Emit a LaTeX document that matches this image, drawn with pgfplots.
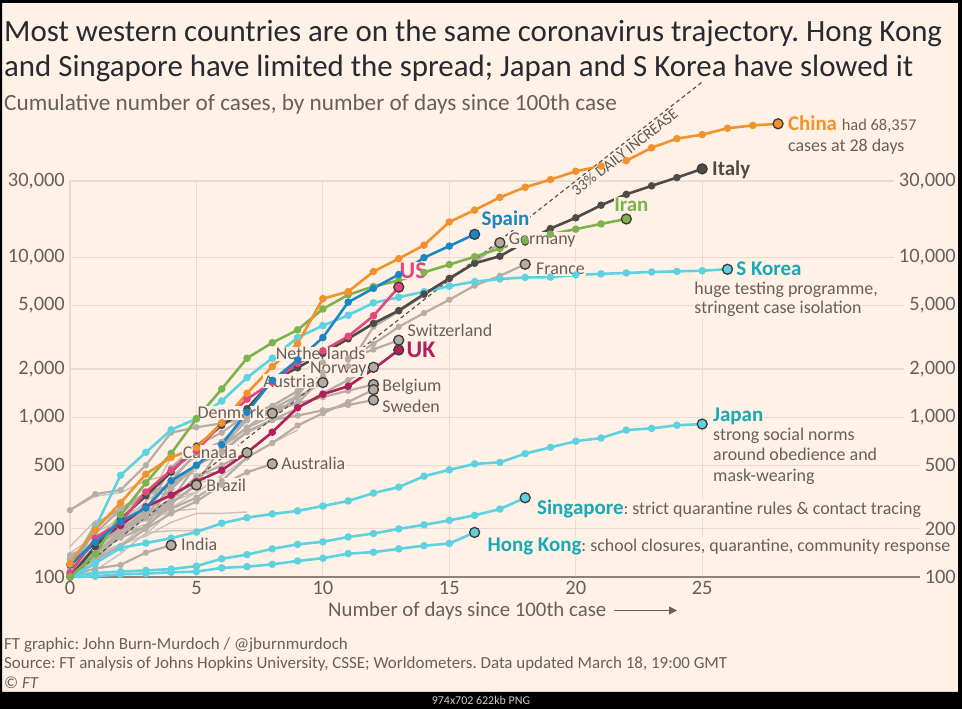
\documentclass[border=0pt]{standalone}
\usepackage{fontspec}
\setmainfont{Carlito}
\usepackage{pgfplots}
\pgfplotsset{compat=1.18}
\usetikzlibrary{arrows.meta}
\frenchspacing

\definecolor{bg}{HTML}{FFF1E5}
\definecolor{gridc}{HTML}{E8DCD1}
\definecolor{basec}{HTML}{8A827C}
\definecolor{txt}{HTML}{66605C}
\definecolor{ink}{HTML}{262A33}
\definecolor{edge}{HTML}{3D3935}
\definecolor{chinac}{HTML}{F2922E}
\definecolor{italyc}{HTML}{4D4A48}
\definecolor{spainc}{HTML}{1B86C6}
\definecolor{iranc}{HTML}{7DB34D}
\definecolor{usc}{HTML}{E5467E}
\definecolor{ukc}{HTML}{B0215B}
\definecolor{cyanc}{HTML}{5CD2E0}
\definecolor{tealc}{HTML}{17A9B6}
\definecolor{grayl}{HTML}{B5ADA6}
\definecolor{grayt}{HTML}{C9C1BA}
\definecolor{graym}{HTML}{B3ABA4}

\newcommand\fs[2]{\fontsize{#1}{#2}\selectfont}

\pgfplotsset{
  cl/.style={color=#1, line width=2.6bp, mark=*, mark size=2.4bp,
    mark options={solid, fill=#1, draw=#1}},
  gl/.style={color=grayl, line width=2.2bp, mark=*, mark size=2bp,
    mark options={solid, fill=grayl, draw=grayl}},
  tl/.style={color=grayt, line width=1.4bp, no marks},
  em/.style={only marks, mark=*, mark size=5bp,
    mark options={fill=#1, draw=edge, line width=1.3bp}},
}
\tikzset{
  lab/.style={inner sep=0.8bp, fill=bg, text=txt, font=\fs{18}{21}},
  blab/.style={inner sep=0.8bp, fill=bg, text=#1, font=\fs{21}{24}\bfseries},
  rlab/.style={anchor=east, font=\fs{20.5}{24}, text=txt, fill=bg,
    inner xsep=5bp, inner ysep=1bp, xshift=11bp},
}

\begin{document}
\begin{tikzpicture}[x=1bp,y=1bp]
\useasboundingbox (0,0) rectangle (962,709);
\fill[bg] (0,0) rectangle (962,709);

% titles
\node[anchor=base west, inner sep=0pt, font=\fs{31}{36}, text=ink] at (4,667)
  {Most western countries are on the same coronavirus trajectory. Hong Kong};
\node[anchor=base west, inner sep=0pt, font=\fs{31}{36}, text=ink] at (4,632)
  {and Singapore have limited the spread; Japan and S Korea have slowed it};
\node[anchor=base west, inner sep=0pt, font=\fs{23.3}{27}, text=txt] at (4,598)
  {Cumulative number of cases, by number of days since 100th case};

\begin{axis}[
  at={(70bp,132bp)}, anchor=south west,
  scale only axis, width=880bp, height=396bp,
  xmin=0, xmax=34.8, ymin=100, ymax=30000,
  ymode=log, clip=false,
  axis line style={draw=none}, tick style={draw=none},
  xtick={0,5,10,15,20,25},
  ytick={100,200,500,1000,2000,5000,10000,30000},
  yticklabels={100,200,500,{1,000},{2,000},{5,000},{10,000},{30,000}},
  grid=major, grid style={gridc, line width=1.2bp},
  /pgf/number format/assume math mode=true,
  xticklabel style={font=\fs{20.5}{24}, text=txt, inner sep=0pt, yshift=-4bp},
  yticklabel style={font=\fs{20.5}{24}, text=txt, inner sep=0pt, xshift=-5bp},
]
% baseline
\draw[basec, line width=1.6bp] (axis cs:0,100) -- (axis cs:34.8,100);

% right-hand tick labels
\node[rlab] at (axis cs:34.8,30000) {30,000};
\node[rlab] at (axis cs:34.8,10000) {10,000};
\node[rlab] at (axis cs:34.8,5000) {5,000};
\node[rlab] at (axis cs:34.8,2000) {2,000};
\node[rlab] at (axis cs:34.8,1000) {1,000};
\node[rlab] at (axis cs:34.8,500) {500};
\node[rlab] at (axis cs:34.8,200) {200};
\node[rlab] at (axis cs:34.8,100) {100};

% other countries, thin grey
\addplot[tl] coordinates {(0,262)(1,320)(2,337)(3,401)(4,439)(5,442)(6,452)};
\addplot[tl] coordinates {(0,129)(1,149)(2,197)(3,238)(4,428)(5,566)(6,673)(7,790)};
\addplot[tl] coordinates {(0,112)(1,169)(2,245)(3,331)(4,448)(5,642)};
\addplot[tl] coordinates {(0,109)(1,143)(2,193)(3,213)(4,298)(5,337)(6,433)};
\addplot[tl] coordinates {(0,116)(1,150)(2,214)(3,298)(4,383)(5,464)};
\addplot[tl] coordinates {(0,117)(1,190)(2,228)(3,331)(4,331)(5,387)(6,418)};
\addplot[tl] coordinates {(0,155)(1,225)(2,244)(3,277)(4,321)(5,336)};
\addplot[tl] coordinates {(0,129)(1,169)(2,223)(3,292)(4,557)};
\addplot[tl] coordinates {(0,117)(1,138)(2,161)(3,180)(4,220)(5,250)(6,250)(7,255)};
\addplot[tl] coordinates {(0,141)(1,181)(2,219)(3,253)(4,275)};
\addplot[tl] coordinates {(0,115)(1,171)(2,205)(3,225)(4,258)(5,267)};
\addplot[tl] coordinates {(0,111)(1,150)(2,177)(3,238)(4,251)};
\addplot[tl] coordinates {(0,123)(1,131)(2,158)(3,184)(4,260)};
\addplot[tl] coordinates {(0,109)(1,110)(2,140)(3,189)(4,195)(5,195)(6,214)};
\addplot[tl] coordinates {(0,100)(1,135)(2,160)(3,210)(4,270)(5,340)(6,430)(7,560)(8,690)(9,830)};

% named grey countries
\addplot[gl] coordinates {(0,130)(1,159)(2,196)(3,262)(4,482)(5,670)(6,799)(7,1040)(8,1176)(9,1457)(10,1908)(11,2078)(12,3675)(13,4585)(14,5795)(15,7272)(16,9257)(17,12327)};
\addplot[gl] coordinates {(0,100)(1,130)(2,191)(3,204)(4,288)(5,380)(6,656)(7,957)(8,1134)(9,1217)(10,1792)(11,2289)(12,2876)(13,3667)(14,4480)(15,5423)(16,6650)(17,7652)(18,9043)};
\addplot[gl] coordinates {(0,114)(1,214)(2,268)(3,337)(4,374)(5,491)(6,652)(7,858)(8,1125)(9,1359)(10,2200)(11,2330)(12,2650)(13,3028)};
\addplot[gl] coordinates {(0,128)(1,188)(2,265)(3,321)(4,382)(5,503)(6,614)(7,804)(8,959)(9,1135)(10,1413)(11,1705)(12,2051)};
\addplot[gl] coordinates {(0,108)(1,147)(2,176)(3,205)(4,400)(5,598)(6,702)(7,996)(8,1090)(9,1221)(10,1333)(11,1463)(12,1600)};
\addplot[gl] coordinates {(0,109)(1,169)(2,200)(3,239)(4,267)(5,314)(6,399)(7,559)(8,689)(9,886)(10,1058)(11,1243)(12,1486)};
\addplot[gl] coordinates {(0,137)(1,161)(2,203)(3,248)(4,355)(5,500)(6,599)(7,814)(8,961)(9,1022)(10,1103)(11,1190)(12,1279)};
\addplot[gl] coordinates {(0,104)(1,131)(2,182)(3,246)(4,302)(5,504)(6,655)(7,860)(8,1018)(9,1332)(10,1646)};
\addplot[gl] coordinates {(0,262)(1,330)(2,350)(3,500)(4,800)(5,864)(6,914)(7,977)(8,1057)};
\addplot[gl] coordinates {(0,108)(1,138)(2,193)(3,249)(4,304)(5,424)(6,500)(7,600)};
\addplot[gl] coordinates {(0,107)(1,128)(2,156)(3,200)(4,250)(5,297)(6,377)(7,452)(8,510)};
\addplot[gl] coordinates {(0,100)(1,121)(2,200)(3,234)(4,291)(5,376)};
\addplot[gl] coordinates {(0,102)(1,113)(2,119)(3,142)(4,158)};

% 33% daily increase
\addplot[edge!85, line width=1.2bp, dash pattern=on 4bp off 3bp] coordinates {(0,100)(25,124900)};

% coloured countries
\addplot[cl=cyanc] coordinates {(0,100)(1,101)(2,104)(3,105)(4,107)(5,108)(6,114)(7,116)(8,120)(9,126)(10,131)(11,140)(12,143)(13,150)(14,157)(15,162)(16,190)};
\addplot[cl=cyanc] coordinates {(0,102)(1,106)(2,108)(3,110)(4,112)(5,117)(6,130)(7,138)(8,150)(9,160)(10,166)(11,178)(12,187)(13,200)(14,212)(15,226)(16,243)(17,266)(18,313)};
\addplot[cl=cyanc] coordinates {(0,100)(1,122)(2,152)(3,163)(4,175)(5,191)(6,217)(7,235)(8,248)(9,259)(10,278)(11,299)(12,335)(13,365)(14,427)(15,468)(16,510)(17,521)(18,591)(19,647)(20,707)(21,740)(22,830)(23,850)(24,890)(25,905)};
\addplot[cl=cyanc] coordinates {(0,104)(1,204)(2,433)(3,602)(4,833)(5,977)(6,1261)(7,1766)(8,2337)(9,3150)(10,3736)(11,4335)(12,5186)(13,5621)(14,6088)(15,6593)(16,7041)(17,7314)(18,7478)(19,7513)(20,7755)(21,7869)(22,7979)(23,8086)(24,8162)(25,8236)(26,8413)};
\addplot[cl=ukc] coordinates {(0,119)(1,164)(2,210)(3,275)(4,325)(5,395)(6,465)(7,600)(8,805)(9,1145)(10,1390)(11,1560)(12,2000)(13,2630)};
\addplot[cl=italyc] coordinates {(0,100)(1,155)(2,229)(3,322)(4,453)(5,655)(6,888)(7,1128)(8,1694)(9,2036)(10,2502)(11,3089)(12,3858)(13,4636)(14,5883)(15,7375)(16,9172)(17,10149)(18,12462)(19,15113)(20,17660)(21,21157)(22,24747)(23,27980)(24,31506)(25,35713)};
\addplot[cl=usc] coordinates {(0,106)(1,175)(2,221)(3,340)(4,466)(5,613)(6,920)(7,1296)(8,1650)(9,2170)(10,2600)(11,3200)(12,4300)(13,6500)};
\addplot[cl=iranc] coordinates {(0,100)(1,139)(2,245)(3,388)(4,593)(5,978)(6,1501)(7,2336)(8,2922)(9,3513)(10,4747)(11,5823)(12,6566)(13,7161)(14,8042)(15,9000)(16,10075)(17,11364)(18,12729)(19,13938)(20,14991)(21,16169)(22,17361)};
\addplot[cl=spainc] coordinates {(0,120)(1,165)(2,222)(3,270)(4,400)(5,500)(6,673)(7,1073)(8,1695)(9,2277)(10,3146)(11,5232)(12,6391)(13,7798)(14,9942)(15,11748)(16,13910)};
\addplot[cl=chinac] coordinates {(0,121)(1,198)(2,291)(3,440)(4,560)(5,643)(6,920)(7,1410)(8,2075)(9,2880)(10,5510)(11,6090)(12,8140)(13,9800)(14,11900)(15,16630)(16,19720)(17,23700)(18,27400)(19,30600)(20,34500)(21,37200)(22,40200)(23,48400)(24,55200)(25,58500)(26,64100)(27,66800)(28,68357)};

% end markers
\addplot[em=graym] coordinates {(17,12327)(18,9043)(13,3028)(12,2051)(12,1600)(12,1486)(12,1279)(10,1646)(8,1057)(7,600)(8,510)(5,376)(4,158)};
\addplot[em=cyanc] coordinates {(16,190)(18,313)(25,905)(26,8413)};
\addplot[em=ukc] coordinates {(13,2630)};
\addplot[em=italyc] coordinates {(25,35713)};
\addplot[em=usc] coordinates {(13,6500)};
\addplot[em=iranc] coordinates {(22,17361)};
\addplot[em=spainc] coordinates {(16,13910)};
\addplot[em=chinac] coordinates {(28,68357)};

% line label
\path (axis cs:0,100) -- (axis cs:25,124900)
  node[pos=0.87, sloped, below, yshift=-1bp, inner sep=1bp, fill=bg, text=edge!85, font=\fs{15.5}{18}] {33\% DAILY INCREASE};

% country labels
\node[blab=chinac, anchor=base west, xshift=9bp, yshift=-6.5bp] at (axis cs:28,68357)
  {China {\mdseries\fs{16.5}{20}\color{txt} had 68,357}};
\node[lab, anchor=base west, xshift=9bp, yshift=-27.5bp] at (axis cs:28,68357) {cases at 28 days};
\node[blab=italyc, anchor=base west, xshift=9bp, yshift=-6.5bp] at (axis cs:25,35713) {Italy};
\node[blab=spainc, anchor=base west, xshift=6bp, yshift=8.5bp] at (axis cs:16,13910) {Spain};
\node[blab=iranc, anchor=base west, xshift=-13bp, yshift=7.5bp] at (axis cs:22,17361) {Iran};
\node[lab, anchor=base west, xshift=8bp, yshift=-1.5bp] at (axis cs:17,12327) {Germany};
\node[lab, anchor=base west, xshift=10bp, yshift=-10.5bp] at (axis cs:18,9043) {France};
\node[blab=tealc, anchor=base west, xshift=8bp, yshift=-6.5bp] at (axis cs:26,8413) {S Korea};
\node[lab, anchor=base west, xshift=-34bp, yshift=-25.5bp] at (axis cs:26,8413) {huge testing programme,};
\node[lab, anchor=base west, xshift=-34bp, yshift=-44.5bp] at (axis cs:26,8413) {stringent case isolation};
\node[blab=usc, font=\fs{24}{27}\bfseries, anchor=base west, xshift=0bp, yshift=9bp] at (axis cs:13,6500) {US};
\node[lab, anchor=base west, xshift=8bp, yshift=3.5bp] at (axis cs:13,3028) {Switzerland};
\node[blab=ukc, font=\fs{24}{27}\bfseries, anchor=base west, xshift=7bp, yshift=-8bp] at (axis cs:13,2630) {UK};
\node[lab, anchor=base east, xshift=-7bp, yshift=7.5bp] at (axis cs:12,2051) {Netherlands};
\node[lab, anchor=base east, xshift=-6bp, yshift=-6.5bp] at (axis cs:12,2051) {Norway};
\node[lab, anchor=base east, xshift=-7bp, yshift=-4.5bp] at (axis cs:10,1646) {Austria};
\node[lab, anchor=base west, xshift=8bp, yshift=-1.5bp] at (axis cs:12,1486) {Belgium};
\node[lab, anchor=base west, xshift=8bp, yshift=-12.5bp] at (axis cs:12,1279) {Sweden};
\node[lab, anchor=base east, xshift=-7bp, yshift=-5.5bp] at (axis cs:8,1057) {Denmark};
\node[lab, anchor=base east, xshift=-9bp, yshift=-5.5bp] at (axis cs:7,600) {Canada};
\node[lab, anchor=base west, xshift=8bp, yshift=-5.5bp] at (axis cs:8,510) {Australia};
\node[lab, anchor=base west, xshift=9bp, yshift=-6.5bp] at (axis cs:5,376) {Brazil};
\node[lab, anchor=base west, xshift=9bp, yshift=-5.5bp] at (axis cs:4,158) {India};
\node[blab=tealc, anchor=base west, xshift=10bp, yshift=3bp] at (axis cs:25,905) {Japan};
\node[lab, anchor=base west, xshift=10bp, yshift=-16.5bp] at (axis cs:25,905) {strong social norms};
\node[lab, anchor=base west, xshift=10bp, yshift=-36.5bp] at (axis cs:25,905) {around obedience and};
\node[lab, anchor=base west, xshift=10bp, yshift=-57.5bp] at (axis cs:25,905) {mask-wearing};
\node[lab, anchor=base west, xshift=11bp, yshift=-17bp] at (axis cs:18,313)
  {\textcolor{tealc}{\fs{21}{24}\bfseries Singapore}: strict quarantine rules \& contact tracing};
\node[lab, anchor=base west, xshift=12bp, yshift=-19bp] at (axis cs:16,190)
  {\textcolor{tealc}{\fs{21}{24}\bfseries Hong Kong}: school closures, quarantine, community response};
\end{axis}

% x axis title
\node[anchor=base west, inner sep=0pt, font=\fs{20.9}{24}, text=txt] at (328,92)
  {Number of days since 100th case};
\draw[txt, line width=1.3bp, -{Triangle[length=8bp,width=8bp]}] (614,98.5) -- (677,98.5);

% footer
\node[anchor=base west, inner sep=0pt, font=\fs{17}{20}, text=txt] at (4,59)
  {FT graphic: John Burn-Murdoch / @jburnmurdoch};
\node[anchor=base west, inner sep=0pt, font=\fs{17}{20}, text=txt] at (4,40)
  {Source: FT analysis of Johns Hopkins University, CSSE; Worldometers. Data updated March 18, 19:00 GMT};
\node[anchor=base west, inner sep=0pt, font=\fs{17}{20}, text=txt] at (4,20)
  {\copyright{} \textit{FT}};

% screenshot frame
\fill[black, even odd rule] (0,0) rectangle (962,709) (2,17) rectangle (958,706);
\node[font=\fs{12}{14}, text=black!20, inner sep=0pt] at (481,8.5) {974x702 622kb PNG};
\end{tikzpicture}
\end{document}
